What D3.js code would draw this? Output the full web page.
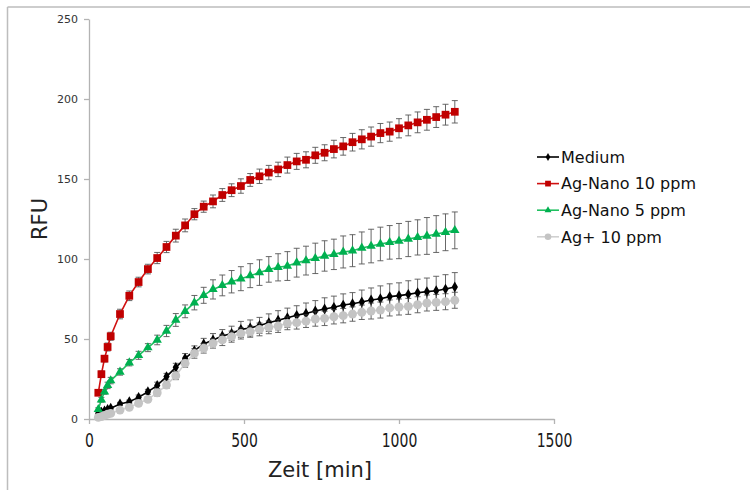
<!DOCTYPE html>
<html>
<head>
<meta charset="utf-8">
<script src="https://cdn.jsdelivr.net/npm/d3@7"></script>
<style>
  body { margin: 0; background: #fff; }
  svg { display: block; font-family: "DejaVu Sans", Verdana, sans-serif; }
</style>
</head>
<body>
<svg id="chart" width="750" height="490"></svg>
<script>
// ---- data ----
const times = [30,40,50,60,70,100,130,160,190,220,250,280,310,340,370,400,430,460,490,520,550,580,610,640,670,700,730,760,790,820,850,880,910,940,970,1000,1030,1060,1090,1120,1150,1180];

const medium = [3.5,4.2,5,6,6.7,9.4,10.8,13.5,17,21,26.5,32.3,37.9,42.7,46.9,49.4,51.9,53.5,56,56.9,58.5,60.2,61.7,63.3,64.8,66,67.5,68.75,69.8,71.2,72,73.1,74.4,75.2,76.5,77.1,77.9,78.9,79.6,80.2,81.2,82.5];
const mediumErr = [0.8,1,1,1,1,1,1,1.5,1.5,2,2,2.5,3,3,3.5,4,4,4.5,5,5,5,5.5,6,6,6,6.5,6.5,7,7,7,7,7.5,7.5,8,8,8,8.5,8.5,8.5,9,9,9];

const nano10 = [16.4,28,37.7,45,51.7,65.6,77,85.6,93.7,100.6,107.5,114.6,121,128,132.7,136,140,143,145.6,149.4,151.7,154,156,158.7,161,162,164.8,166.4,168.7,170.4,173,174.8,176.5,178.7,179.6,181.7,183.5,185.4,187,188.7,190.2,192];
const nano10Err = [1.5,2,2,2.5,2.5,3,3,3,3,3.5,3.5,4,4,3.5,3.5,4,4,4,4.5,4,4.5,4.5,4.5,5,5,5,5,5,5.5,5.5,5.5,6,6,6,6,6,6.5,6.5,6.5,6.5,6.5,7];

const nano5 = [6,12,17,21,24,29.4,35.2,39.8,44.6,49.4,55,61.9,67.3,72.7,77.3,81,83.5,85.8,87.7,89.6,91.5,93.5,94.8,95.6,97.7,99,100.4,101.9,102.9,104.4,105.2,106.9,108.1,109.4,110.4,111.2,112.5,113.5,114.4,115.6,116.7,117.9];
const nano5Err = [1,1.5,1.5,2,2,2,2,2.5,2.5,3,3.5,4,4,4.5,5,6,6.5,7,7.5,7.5,8,8,8.5,9,9,9,9.5,9.5,9.5,10,10,10,10.5,10.5,10.5,11,11,11,11.5,11.5,11.5,11.5];

const agPlus = [1,1.5,2.3,3,3.5,5.6,7.3,9.8,12.3,16.4,21.2,27.1,34.8,41,44.2,47.3,49.4,51.5,53.5,54.6,56,57.3,58.1,59.8,60.2,61.2,62.5,62.9,63.9,64.6,65.6,66.7,67.5,68.1,69.4,70,70.4,71.4,72.5,72.9,73.3,74.2];
const agPlusErr = [0.5,0.5,0.8,0.8,1,1,1,1.5,1.5,2,2,2.5,2.5,3,3,3,3.5,3.5,3.5,3.5,4,4,4,4,4,4,4.5,4.5,4.5,4.5,4.5,4.5,5,5,5,5,5,5,5,5,5,5];

const seriesNames = ["Medium", "Ag-Nano 10 ppm", "Ag-Nano 5 ppm", "Ag+ 10 ppm"];
const xTicks = [0, 500, 1000, 1500];
const yTicks = [0, 50, 100, 150, 200, 250];
const xTitle = "Zeit [min]";
const yTitle = "RFU";

// ---- styles ----
const styles = [
  { vals: medium, err: mediumErr, line: "#000000", fill: "#000000", sym: d3.symbolDiamond, size: 34 },
  { vals: nano10, err: nano10Err, line: "#d01010", fill: "#c00000", sym: d3.symbolSquare, size: 60 },
  { vals: nano5,  err: nano5Err,  line: "#20c060", fill: "#00b050", sym: d3.symbolTriangle, size: 38 },
  { vals: agPlus, err: agPlusErr, line: "#d0d0d0", fill: "#c4c4c4", sym: d3.symbolCircle, size: 62 }
];

const svg = d3.select("#chart");
svg.append("rect").attr("width", 750).attr("height", 490).attr("fill", "#fff");

// border
svg.append("line").attr("x1", 7.5).attr("x2", 750).attr("y1", 7).attr("y2", 7)
  .attr("stroke", "#bdbdbd").attr("stroke-width", 1.5);
svg.append("line").attr("x1", 7.5).attr("x2", 7.5).attr("y1", 7).attr("y2", 490)
  .attr("stroke", "#bdbdbd").attr("stroke-width", 1.5);

const x = d3.scaleLinear().domain([0, 1500]).range([89, 554]);
const y = d3.scaleLinear().domain([0, 250]).range([419, 19]);

// axes
const gx = svg.append("g").attr("transform", "translate(0,419)")
  .call(d3.axisBottom(x).tickValues(xTicks).tickSize(5).tickSizeOuter(0).tickFormat(d3.format("d")));
gx.select(".domain").attr("stroke", "#b3b3b3").attr("stroke-width", 1.3);
gx.selectAll(".tick line").attr("stroke", "#b3b3b3").attr("stroke-width", 1.3);
gx.selectAll(".tick text")
  .attr("font-family", "DejaVu Sans, Verdana, sans-serif")
  .attr("font-size", 14).attr("fill", "#1a1a1a")
  .attr("y", 0).attr("dy", 0)
  .attr("transform", "translate(0,28) scale(1,1.4)");

const gy = svg.append("g").attr("transform", "translate(89,0)")
  .call(d3.axisLeft(y).tickValues(yTicks).tickSize(5).tickSizeOuter(0));
gy.select(".domain").attr("stroke", "#b3b3b3").attr("stroke-width", 1.3);
gy.selectAll(".tick line").attr("stroke", "#b3b3b3").attr("stroke-width", 1.3);
gy.selectAll(".tick text")
  .attr("font-family", "DejaVu Sans, Verdana, sans-serif")
  .attr("font-size", 11).attr("fill", "#333").attr("x", -11);

// titles
svg.append("text").attr("x", 320).attr("y", 477).attr("text-anchor", "middle")
  .attr("font-size", 21).attr("fill", "#222").text(xTitle);
svg.append("text").attr("transform", "translate(47,219) rotate(-90)").attr("text-anchor", "middle")
  .attr("font-size", 21).attr("fill", "#222").text(yTitle);

// series
const lineGen = d3.line().x((d, i) => x(times[i])).y(d => y(d));
styles.forEach((s, si) => {
  const g = svg.append("g");
  const eb = g.append("g").attr("stroke", "#3a3a3a").attr("stroke-width", 0.9).attr("opacity", 0.85);
  s.vals.forEach((v, i) => {
    const cx = x(times[i]);
    const top = y(v + s.err[i]), bot = y(v - s.err[i]);
    eb.append("line").attr("x1", cx).attr("x2", cx).attr("y1", top).attr("y2", bot);
    eb.append("line").attr("x1", cx - 3).attr("x2", cx + 3).attr("y1", top).attr("y2", top);
    eb.append("line").attr("x1", cx - 3).attr("x2", cx + 3).attr("y1", bot).attr("y2", bot);
  });
  g.append("path").datum(s.vals).attr("d", lineGen)
    .attr("fill", "none").attr("stroke", s.line).attr("stroke-width", 1.6);
  g.selectAll("path.m").data(s.vals).enter().append("path").attr("class", "m")
    .attr("transform", (d, i) => `translate(${x(times[i])},${y(d)})`)
    .attr("d", d3.symbol().type(s.sym).size(s.size))
    .attr("fill", s.fill);
});

// legend
const leg = svg.append("g");
seriesNames.forEach((name, i) => {
  const s = styles[i];
  const ly = 157 + i * 26.6;
  leg.append("line").attr("x1", 537).attr("x2", 559).attr("y1", ly).attr("y2", ly)
    .attr("stroke", s.line).attr("stroke-width", 1.6);
  leg.append("path").attr("transform", `translate(548,${ly})`)
    .attr("d", d3.symbol().type(s.sym).size(s.size * 0.55)).attr("fill", s.fill);
  leg.append("text").attr("x", 561).attr("y", ly).attr("dy", "0.36em")
    .attr("font-size", 16).attr("fill", "#111").text(name);
});
</script>
</body>
</html>
